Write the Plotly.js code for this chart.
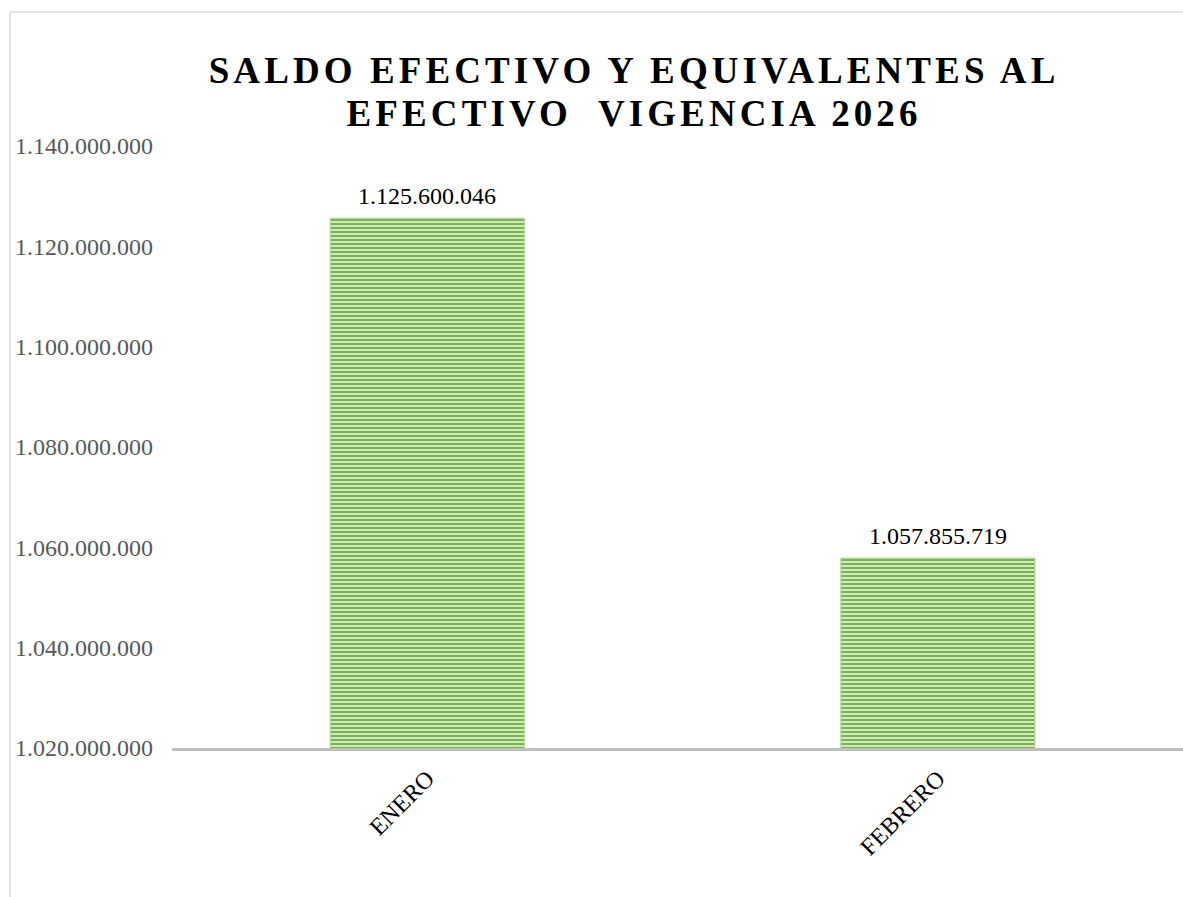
<!DOCTYPE html>
<html>
<head>
<meta charset="utf-8">
<script src="https://cdn.plot.ly/plotly-3.0.1.min.js"></script>
<style>
  html, body { margin: 0; padding: 0; background: #ffffff; }
  #chart { width: 1183px; height: 897px; }
  .gtitle { letter-spacing: 4.1px; }
</style>
</head>
<body>
<div id="chart"></div>
<script>
const categories = ["ENERO", "FEBRERO"];
const values = [1125600046, 1057855719];
const chartTitle = "SALDO EFECTIVO Y EQUIVALENTES AL<br>EFECTIVO  VIGENCIA 2026";
const yTicks = [1020000000, 1040000000, 1060000000, 1080000000, 1100000000, 1120000000, 1140000000];

const serif = '"Liberation Serif", "Times New Roman", Times, serif';
const fmt = v => Math.round(v).toString().replace(/\B(?=(\d{3})+(?!\d))/g, ".");

const ml = 172, mr = 0, mt = 146, mb = 149, W = 1183, H = 897;
const pw = W - ml - mr, ph = H - mt - mb;
const py = Y => (H - mb - Y) / ph;
const px = X => (X - ml) / pw;

const trace = {
  type: "bar",
  x: categories,
  y: values,
  width: 0.38,
  marker: {
    color: "#c7e3b2",
    line: { color: "#a9d18e", width: 1 },
    pattern: { shape: "-", fgcolor: "#6fad46", bgcolor: "#cfe8bd", size: 4, solidity: 0.45, fillmode: "replace" }
  },
  hoverinfo: "skip",
  showlegend: false
};

const layout = {
  width: W, height: H,
  margin: { l: ml, r: mr, t: mt, b: mb, pad: 0 },
  paper_bgcolor: "#ffffff",
  plot_bgcolor: "#ffffff",
  title: {
    text: chartTitle,
    font: { family: serif, size: 37, color: "#000000", weight: "bold" },
    xref: "container", x: 0.536, xanchor: "center",
    yref: "container", y: 1 - 83 / H, yanchor: "top"
  },
  xaxis: {
    type: "category",
    range: [-0.5, 1.48],
    showgrid: false,
    zeroline: false,
    showline: true,
    linecolor: "#bfbfbf",
    linewidth: 3,
    ticks: "",
    tickangle: -45,
    ticklabelstandoff: 4,
    tickfont: { family: serif, size: 24, color: "#000000" },
    fixedrange: true
  },
  yaxis: {
    range: [1020000000, 1140000000],
    tickvals: yTicks,
    ticktext: yTicks.map(fmt),
    showgrid: false,
    zeroline: false,
    showline: false,
    ticks: "",
    ticklabelstandoff: 18,
    tickfont: { family: serif, size: 24, color: "#595959" },
    fixedrange: true
  },
  annotations: categories.map((c, i) => ({
    x: c, y: values[i], xref: "x", yref: "y",
    text: fmt(values[i]),
    showarrow: false,
    yanchor: "bottom",
    yshift: 7,
    font: { family: serif, size: 24, color: "#000000" }
  })),
  shapes: [{
    type: "rect", xref: "paper", yref: "paper",
    x0: px(10), x1: 1.1,
    y0: -0.4, y1: py(12),
    line: { color: "#d9d9d9", width: 1.5 },
    fillcolor: "rgba(0,0,0,0)",
    layer: "below"
  }]
};

Plotly.newPlot("chart", [trace], layout, { displayModeBar: false, staticPlot: true }).then(gd => {
  const lines = gd.querySelectorAll(".gtitle tspan.line");
  for (let i = 1; i < lines.length; i++) lines[i].setAttribute("dy", "1.16em");
});
</script>
</body>
</html>
